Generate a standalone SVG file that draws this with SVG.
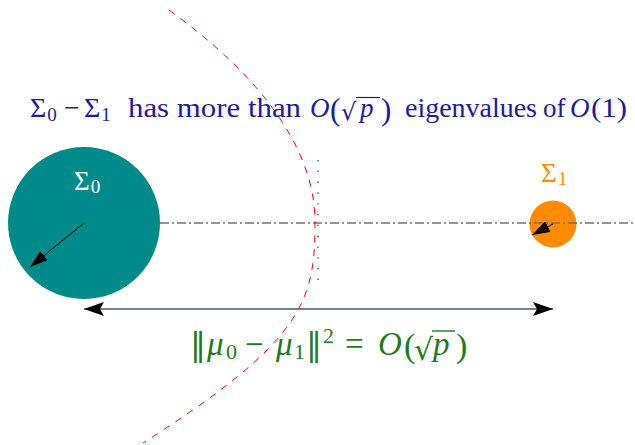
<svg xmlns="http://www.w3.org/2000/svg" width="635" height="445" viewBox="0 0 635 445">
<defs>
<style>
.t{font-family:"Liberation Serif","DejaVu Serif",serif;}
.dv{font-family:"DejaVu Serif","Liberation Serif",serif;}
.it{font-style:italic;}
.navy{fill:#1c1c96;}
.grn{fill:#1f7a1f;}
</style>
<marker id="ah" viewBox="0 0 20 14" refX="20" refY="7" markerWidth="20" markerHeight="14" markerUnits="userSpaceOnUse" orient="auto-start-reverse">
<path d="M0,0 L20,7 L0,14 L4,7 Z" fill="#000"/>
</marker>
<marker id="ah2" viewBox="0 0 18 12" refX="18" refY="6" markerWidth="18" markerHeight="12" markerUnits="userSpaceOnUse" orient="auto">
<path d="M0,0 L18,6 L0,12 Z" fill="#000"/>
</marker>
</defs>
<rect width="635" height="445" fill="#fff"/>

<g id="sigma0">
<circle cx="84" cy="223" r="76" fill="#008b8a"/>
<text class="t" x="74" y="190" font-size="27" fill="#fff">Σ<tspan font-size="19" dx="1" dy="3">0</tspan></text>
</g>

<g id="sigma1">
<circle cx="553" cy="224" r="23.5" fill="#ff8c00"/>
<text class="t" x="541" y="182" font-size="27" fill="#ff8c00">Σ<tspan font-size="19" dx="1" dy="3">1</tspan></text>
</g>

<g id="connectors">
<line x1="160" y1="223" x2="635" y2="223" stroke="#707070" stroke-width="1.4" stroke-dasharray="9,3,2,3"/>
<line x1="318" y1="160" x2="318" y2="280" stroke="#333" stroke-width="1.3" stroke-dasharray="1.3,9.5"/>
<path d="M169,10 C255,72 315,145 315,222 C315,300 305,340 143,443" fill="none" stroke="#ff0000" stroke-width="1" stroke-dasharray="7,7"/>
<line x1="84" y1="223" x2="30" y2="267" stroke="#000" stroke-width="1" marker-end="url(#ah2)"/>
<line x1="553" y1="224" x2="532" y2="235" stroke="#000" stroke-width="1" marker-end="url(#ah2)"/>
<line x1="84" y1="309" x2="553" y2="309" stroke="#4f5757" stroke-width="1.4" marker-start="url(#ah)" marker-end="url(#ah)"/>
</g>

<g id="title" class="t navy">
<text x="30" y="117" font-size="28">Σ<tspan font-size="19" dx="1" dy="4">0</tspan></text>
<text x="64" y="117" font-size="28">−</text>
<text x="84" y="117" font-size="28">Σ<tspan font-size="19" dx="1" dy="4">1</tspan></text>
<text x="128" y="117" font-size="27" textLength="173" lengthAdjust="spacingAndGlyphs">has more than</text>
<text class="it" x="310" y="117" font-size="27">O</text>
<text x="330" y="120" font-size="31">(</text>
<text class="dv" x="341" y="120" font-size="24">√</text>
<line x1="356" y1="97.5" x2="380" y2="97.5" stroke="#1c1c96" stroke-width="1.2"/>
<text class="it" x="360" y="117" font-size="27">p</text>
<text x="381" y="120" font-size="31">)</text>
<text x="405" y="117" font-size="27" textLength="132" lengthAdjust="spacingAndGlyphs">eigenvalues</text>
<text x="543" y="117" font-size="27">of</text>
<text class="it" x="570" y="117" font-size="27">O</text>
<text x="591" y="117" font-size="27" textLength="36" lengthAdjust="spacingAndGlyphs">(1)</text>
</g>

<g id="distance-label" class="t grn">
<text class="dv" x="190" y="355" font-size="32">‖</text>
<text class="it" x="207" y="355" font-size="33">μ</text>
<text x="226" y="359" font-size="22">0</text>
<text x="245" y="355" font-size="33">−</text>
<text class="it" x="276" y="355" font-size="33">μ</text>
<text x="294" y="359" font-size="22">1</text>
<text class="dv" x="306" y="355" font-size="32">‖</text>
<text x="323" y="343" font-size="22">2</text>
<text x="345" y="355" font-size="33">=</text>
<text class="it" x="378" y="355" font-size="33">O</text>
<text x="404" y="357" font-size="34">(</text>
<text class="dv" x="414" y="360" font-size="30">√</text>
<line x1="432" y1="331" x2="455" y2="331" stroke="#1f7a1f" stroke-width="1.4"/>
<text class="it" x="433" y="355" font-size="33">p</text>
<text x="456" y="357" font-size="34">)</text>
</g>
</svg>
